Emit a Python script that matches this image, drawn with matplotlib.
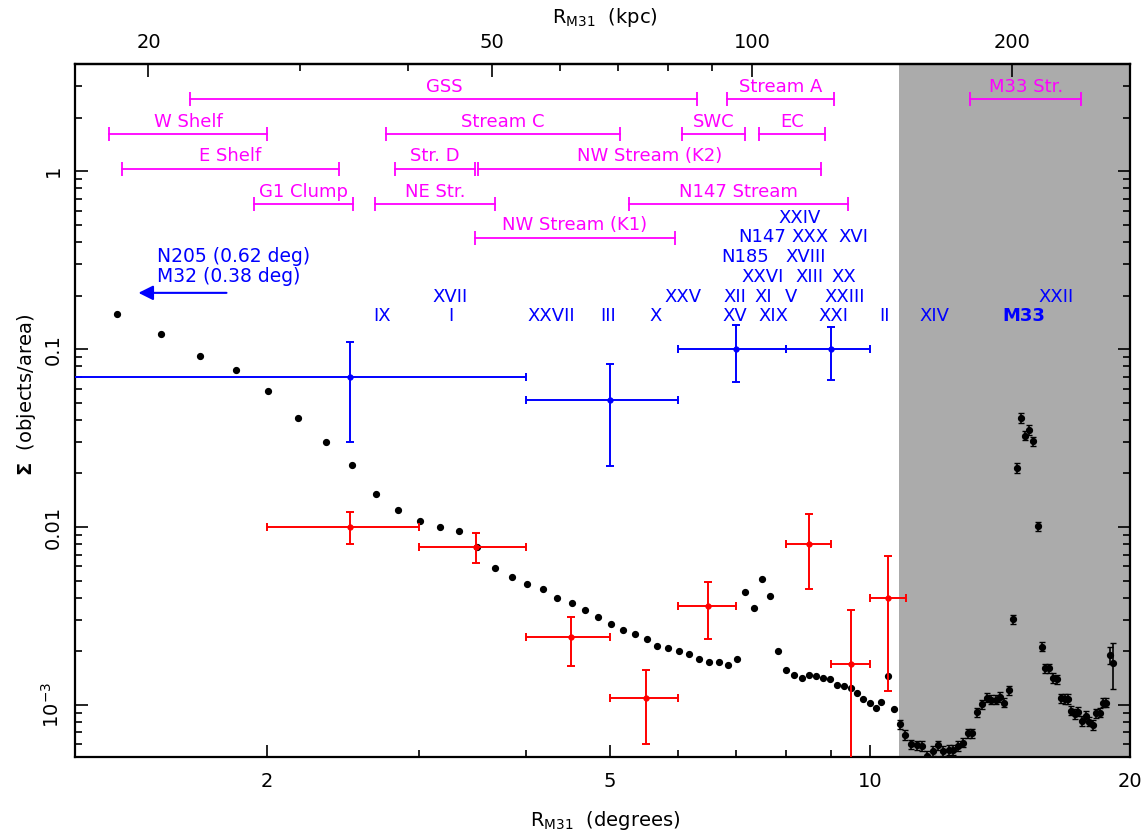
import numpy as np
import matplotlib
matplotlib.use("Agg")
import matplotlib.pyplot as plt
from matplotlib.ticker import FixedLocator, NullFormatter

# ---- data ----
# stacked surface density profile (black dots)
prof_r = [1.342, 1.508, 1.674, 1.842, 2.009, 2.176, 2.344, 2.509, 2.675, 2.841,
          3.012, 3.177, 3.342, 3.509, 3.678, 3.845, 4.008, 4.176, 4.341, 4.511,
          4.674, 4.841, 5.007, 5.180, 5.343, 5.512, 5.670, 5.840, 6.012, 6.179,
          6.342, 6.506, 6.677, 6.844, 7.005, 7.168, 7.335, 7.505, 7.667, 7.831,
          7.999, 8.172, 8.332, 8.499, 8.663, 8.831, 8.997, 9.160, 9.333, 9.500,
          9.652, 9.823, 9.990, 10.15, 10.31, 10.50, 10.65, 10.83, 10.99, 11.15,
          11.32, 11.48, 11.65, 11.82, 11.98, 12.15, 12.33, 12.48, 12.65, 12.82,
          12.99, 13.14, 13.31, 13.47, 13.65, 13.82, 13.98, 14.13, 14.31, 14.47,
          14.63, 14.80, 14.97, 15.13, 15.29, 15.46, 15.64, 15.80, 15.96, 16.13,
          16.30, 16.48, 16.65, 16.80, 16.96, 17.11, 17.28, 17.43, 17.62, 17.80,
          17.95, 18.11, 18.27, 18.44, 18.60, 18.77, 18.94, 19.10]
prof_s = [0.157, 0.122, 0.091, 0.0762, 0.0583, 0.0411, 0.0301, 0.0224, 0.0154, 0.0125,
          0.0108, 0.0100, 0.00953, 0.00772, 0.00590, 0.00522, 0.00480, 0.00447, 0.00401, 0.00376,
          0.00340, 0.00311, 0.00286, 0.00264, 0.00250, 0.00234, 0.00215, 0.00209, 0.00201, 0.00193,
          0.00181, 0.00175, 0.00174, 0.00168, 0.00181, 0.00431, 0.00351, 0.00510, 0.00410, 0.00201,
          0.00157, 0.00147, 0.00142, 0.00147, 0.00145, 0.00141, 0.00139, 0.00130, 0.00127, 0.00124,
          0.00116, 0.00108, 0.00103, 0.000955, 0.00104, 0.00146, 0.000943, 0.000779, 0.000679, 0.000601,
          0.000592, 0.000589, 0.000517, 0.000552, 0.000593, 0.000552, 0.000559, 0.000559, 0.000589, 0.000614,
          0.000693, 0.000693, 0.000910, 0.00101, 0.00110, 0.00107, 0.00107, 0.00111, 0.00103, 0.00121,
          0.00304, 0.0215, 0.0410, 0.0326, 0.0351, 0.0304, 0.0101, 0.00213, 0.00161, 0.00161,
          0.00142, 0.00139, 0.00109, 0.00108, 0.00108, 0.000929, 0.000890, 0.000917, 0.000813, 0.000868,
          0.000806, 0.000772, 0.000898, 0.000905, 0.00103, 0.00103, 0.00191, 0.00173]
# the last two outer bins have visible error bars (lower, upper)
tail_err_lo = [0.00021, 0.00050]
tail_err_hi = [0.00020, 0.00049]
field_frac_err = 0.06        # small errors on bins inside the M33 zone

# blue: satellite counts per radial bin
sat_r = [2.5, 5.0, 7.0, 9.0]
sat_rlo = [1.5, 1.0, 1.0, 1.0]
sat_rhi = [1.5, 1.0, 1.0, 1.0]
sat_s = [0.070, 0.052, 0.100, 0.100]
sat_slo = [0.040, 0.030, 0.035, 0.033]
sat_shi = [0.040, 0.030, 0.036, 0.033]

# red: globular clusters
gc_r = [2.5, 3.5, 4.5, 5.5, 6.5, 8.5, 9.5, 10.5]
gc_rlo = [0.5, 0.5, 0.5, 0.5, 0.5, 0.5, 0.5, 0.5]
gc_rhi = [0.5, 0.5, 0.5, 0.5, 0.5, 0.5, 0.5, 0.5]
gc_s = [0.0100, 0.0077, 0.0024, 0.0011, 0.0036, 0.0080, 0.0017, 0.0040]
gc_slo = [0.0020, 0.0014, 0.00075, 0.0005, 0.00125, 0.0035, 0.00169, 0.0028]
gc_shi = [0.0021, 0.0016, 0.00073, 0.00048, 0.0013, 0.0038, 0.0017, 0.0029]

# streams: name, r_min, r_max, level
stream_names = ["GSS", "Stream A", "M33 Str.", "W Shelf", "Stream C", "SWC", "EC",
                "E Shelf", "Str. D", "NW Stream (K2)", "G1 Clump", "NE Str.",
                "N147 Stream", "NW Stream (K1)"]
stream_lo = [1.632, 6.83, 13.06, 1.313, 2.752, 6.064, 7.44,
             1.361, 2.821, 3.515, 1.932, 2.673, 5.259, 3.485]
stream_hi = [6.311, 9.08, 17.56, 2.004, 5.127, 7.164, 8.867,
             2.424, 3.485, 8.778, 2.516, 3.678, 9.436, 5.94]
stream_lev = [2.53, 2.53, 2.53, 1.614, 1.614, 1.614, 1.614,
              1.03, 1.03, 1.03, 0.653, 0.653, 0.653, 0.422]

# dwarf satellite labels: name, radius, label height
dw_names = ["IX", "I", "XXVII", "III", "X", "XV", "XIX", "XXI", "II", "XIV",
            "XVII", "XXV", "XII", "XI", "V", "XXIII", "XXII",
            "XXVI", "XIII", "XX", "N185", "XVIII", "N147", "XXX", "XVI", "XXIV"]
dw_r = [2.72, 3.27, 4.27, 4.98, 5.64, 6.98, 7.74, 9.07, 10.38, 11.86,
        3.26, 6.08, 6.98, 7.53, 8.11, 9.35, 16.43,
        7.52, 8.50, 9.32, 7.16, 8.43, 7.50, 8.53, 9.56, 8.29]
dw_y = [0.154, 0.154, 0.154, 0.154, 0.154, 0.154, 0.154, 0.154, 0.154, 0.154,
        0.197, 0.197, 0.197, 0.197, 0.197, 0.197, 0.197,
        0.254, 0.254, 0.254, 0.329, 0.329, 0.426, 0.426, 0.426, 0.545]
m33_r, m33_y = 15.07, 0.154

kpc_per_deg = 13.7
m33_zone = 10.8
top_ticks = [20, 50, 100, 200]
top_minor = [30, 40, 60, 70, 80, 90]

# ---- figure ----
fig = plt.figure(figsize=(11.46, 8.38), dpi=100)
ax = fig.add_axes([0.0654, 0.0967, 0.9206, 0.8269])
ax.set_xscale("log")
ax.set_yscale("log")
ax.set_xlim(1.2, 20)
ax.set_ylim(5.1e-4, 4.0)

ax.axvspan(m33_zone, 20, color="#ababab", lw=0, zorder=0)

# black profile
pr = np.array(prof_r)
ps = np.array(prof_s)
ax.plot(pr, ps, "o", color="k", ms=4.2, zorder=4)
zone = (pr > m33_zone)
zone[-2:] = False
ax.errorbar(pr[zone], ps[zone], yerr=field_frac_err * ps[zone], fmt="none",
            ecolor="k", elinewidth=1.2, capsize=2, zorder=4)
ax.errorbar(pr[-2:], ps[-2:], yerr=[tail_err_lo, tail_err_hi], fmt="none",
            ecolor="k", elinewidth=1.2, capsize=2.5, zorder=4)

# satellites (blue) and GCs (red)
ax.errorbar(sat_r, sat_s, xerr=[sat_rlo, sat_rhi], yerr=[sat_slo, sat_shi],
            fmt="o", ms=3.5, color="#0000ff", elinewidth=1.4, capsize=3, capthick=1.4, zorder=5)
ax.errorbar(gc_r, gc_s, xerr=[gc_rlo, gc_rhi], yerr=[gc_slo, gc_shi],
            fmt="o", ms=3.5, color="#ff0000", elinewidth=1.4, capsize=3, capthick=1.4, zorder=5)

# streams (magenta)
for name, lo, hi, lev in zip(stream_names, stream_lo, stream_hi, stream_lev):
    ax.plot([lo, hi], [lev, lev], color="#ff00ff", lw=1.3, zorder=3)
    ax.plot([lo, hi], [lev, lev], "|", color="#ff00ff", ms=10, mew=1.3, zorder=3)
    ax.annotate(name, xy=(np.sqrt(lo * hi), lev), xytext=(0, 9), textcoords="offset points",
                ha="center", va="center", color="#ff00ff", fontsize=13)

# dwarf labels
for name, r, y in zip(dw_names, dw_r, dw_y):
    ax.text(r, y, name, color="#0000ff", fontsize=13, ha="center", va="center", zorder=6)
ax.text(m33_r, m33_y, "M33", color="#0000ff", fontsize=13, fontweight="bold",
        ha="center", va="center", zorder=6)

# N205 / M32 arrow
ax.annotate("", xy=(1.411, 0.207), xytext=(1.811, 0.207),
            arrowprops=dict(arrowstyle="-|>", color="#0000ff", lw=1.5, mutation_scale=22))
ax.text(1.492, 0.330, "N205 (0.62 deg)", color="#0000ff", fontsize=13.5, ha="left", va="center")
ax.text(1.492, 0.2548, "M32 (0.38 deg)", color="#0000ff", fontsize=13.5, ha="left", va="center")

# ticks / axes
for s in ax.spines.values():
    s.set_linewidth(1.6)
ax.xaxis.set_major_locator(FixedLocator([2, 5, 10, 20]))
ax.xaxis.set_minor_locator(FixedLocator([3, 4, 6, 7, 8, 9]))
ax.set_xticklabels(["2", "5", "10", "20"])
ax.xaxis.set_minor_formatter(NullFormatter())
ax.set_yticks([1e-3, 1e-2, 0.1, 1])
ax.set_yticklabels([r"10$^{-3}$", "0.01", "0.1", "1"], rotation=90, va="center")
ax.tick_params(axis="x", which="both", direction="in", top=False, labelsize=14, pad=11)
ax.tick_params(axis="y", which="both", direction="in", right=True, labelsize=14, pad=9)
ax.tick_params(which="major", length=9, width=1.2)
ax.tick_params(which="minor", length=5, width=1.2)

sec = ax.secondary_xaxis("top", functions=(lambda d: d * kpc_per_deg,
                                           lambda k: k / kpc_per_deg))
sec.xaxis.set_major_locator(FixedLocator(top_ticks))
sec.xaxis.set_minor_locator(FixedLocator(top_minor))
sec.set_xticklabels([str(t) for t in top_ticks])
sec.xaxis.set_minor_formatter(NullFormatter())
sec.tick_params(which="both", direction="in", labelsize=14, pad=9)
sec.tick_params(which="major", length=9, width=1.2)
sec.tick_params(which="minor", length=5, width=1.2)
sec.spines["top"].set_linewidth(1.6)

fig.text(0.528, 0.979, r"R$_{\rm M31}$  (kpc)", fontsize=14, ha="center", va="center")
fig.text(0.528, 0.021, r"R$_{\rm M31}$  (degrees)", fontsize=14, ha="center", va="center")
fig.text(0.023, 0.529, r"$\mathbf{\Sigma}$  (objects/area)", fontsize=14, ha="center", va="center",
         rotation=90)

fig.savefig("out.png", dpi=100)
